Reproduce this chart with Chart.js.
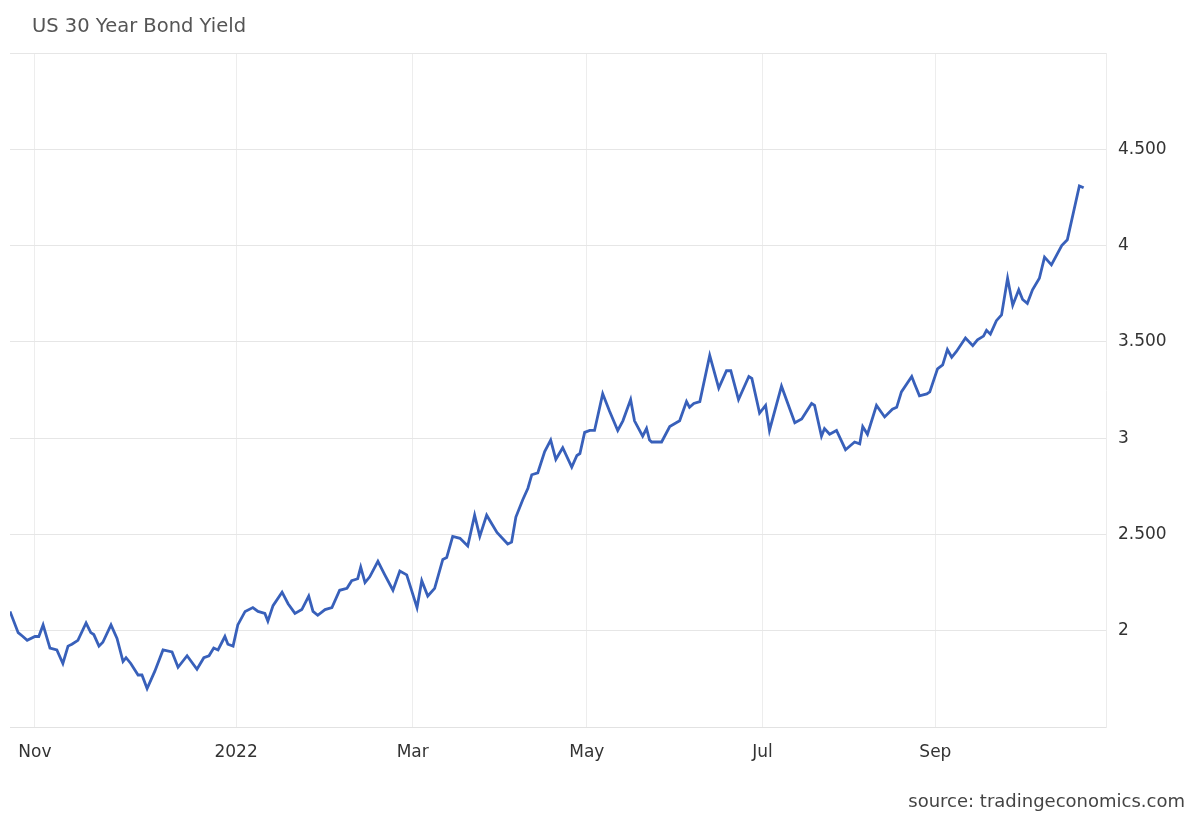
<!DOCTYPE html>
<html>
<head>
<meta charset="utf-8">
<title>US 30 Year Bond Yield</title>
<script src="https://cdn.jsdelivr.net/npm/chart.js@4.4.0/dist/chart.umd.min.js"></script>
<style>
    html, body { margin: 0; padding: 0; background: #fff; }
    #wrap { position: relative; width: 1193px; height: 814px; }
    #title {
        position: absolute; left: 32px; top: 14px;
        font: 19.5px "DejaVu Sans", sans-serif; color: #555;
    }
    #source {
        position: absolute; right: 8px; top: 790px;
        font: 18px "DejaVu Sans", sans-serif; color: #444;
    }
</style>
</head>
<body>
<div id="wrap">
    <canvas id="bondChart" width="1193" height="814"></canvas>
    <div id="title">US 30 Year Bond Yield</div>
    <div id="source">source: tradingeconomics.com</div>
</div>
<script>
// trading session number (from late Oct 2021) and the yield at that session
const sessions = [
    0, 1.9, 3.0, 4.0, 5.8, 6.7, 7.7, 9.3, 10.9, 12.3, 13.5, 14.4, 15.8, 17.7, 18.8, 19.5, 20.7, 21.6,
    23.5, 24.9, 26.3, 27.0, 28.1, 29.8, 30.7, 31.9, 33.7, 35.6, 37.7, 39.1, 41.2, 43.5, 45.1, 46.3,
    47.4, 48.4, 50.0, 50.7, 51.9, 53.0, 54.7, 56.5, 57.7, 59.3, 60.0, 61.2, 63.3, 64.7, 66.3, 67.9,
    69.5, 70.5, 71.6, 73.3, 74.9, 76.7, 78.4, 79.5, 80.9, 81.6, 82.6, 83.7, 85.6, 87.2, 89.1, 90.7,
    92.3, 94.7, 95.8, 97.2, 98.8, 100.7, 101.6, 103.0, 104.7, 106.5, 108.1, 109.3, 110.9, 113.3,
    115.8, 116.7, 117.7, 119.3, 120.5, 121.4, 122.8, 124.4, 125.8, 127.0, 128.6, 130.7, 131.9, 132.6,
    133.7, 134.9, 136.0, 137.9, 139.5, 141.4, 142.6, 144.4, 145.3, 147.2, 148.1, 148.8, 149.3, 151.6,
    153.5, 155.8, 157.4, 158.1, 159.1, 160.5, 162.8, 164.9, 166.7, 167.7, 169.5, 171.9, 172.6, 174.4,
    175.8, 176.7, 179.5, 182.6, 184.2, 186.5, 187.2, 188.8, 189.5, 190.7, 192.3, 194.4, 196.5, 197.7,
    198.4, 199.5, 201.6, 203.5, 205.3, 206.3, 207.4, 209.8, 210.5, 211.6, 213.3, 214.0, 215.8, 217.0,
    218.1, 219.1, 220.2, 222.3, 224.0, 225.1, 226.5, 227.2, 228.1, 229.5, 230.7, 232.1, 233.3, 234.7,
    235.6, 236.7, 237.9, 239.5, 240.7, 242.3, 244.7, 246.0, 248.8, 249.8
];
const yields = [
    2.10, 1.99, 1.97, 1.95, 1.97, 1.97, 2.03, 1.91, 1.90, 1.83, 1.92, 1.93, 1.95, 2.04, 1.99, 1.98, 1.92, 1.94,
    2.03, 1.96, 1.84, 1.86, 1.83, 1.77, 1.77, 1.70, 1.79, 1.90, 1.89, 1.81, 1.87, 1.80, 1.86, 1.87,
    1.91, 1.90, 1.97, 1.93, 1.92, 2.03, 2.10, 2.12, 2.10, 2.09, 2.05, 2.13, 2.20, 2.14, 2.09, 2.11,
    2.18, 2.10, 2.08, 2.11, 2.12, 2.21, 2.22, 2.26, 2.27, 2.33, 2.25, 2.28, 2.36, 2.29, 2.21, 2.31,
    2.29, 2.12, 2.26, 2.18, 2.22, 2.37, 2.38, 2.49, 2.48, 2.44, 2.60, 2.49, 2.60, 2.51,
    2.45, 2.46, 2.59, 2.68, 2.74, 2.81, 2.82, 2.93, 2.99, 2.89, 2.95, 2.85, 2.91, 2.92,
    3.03, 3.04, 3.04, 3.23, 3.14, 3.04, 3.09, 3.20, 3.09, 3.01, 3.05, 2.99, 2.98, 2.98,
    3.06, 3.09, 3.19, 3.16, 3.18, 3.19, 3.43, 3.26, 3.35, 3.35, 3.20, 3.32, 3.31, 3.13,
    3.17, 3.04, 3.27, 3.08, 3.10, 3.18, 3.17, 3.01, 3.05, 3.02, 3.04, 2.94, 2.98, 2.97,
    3.06, 3.02, 3.17, 3.11, 3.15, 3.16, 3.24, 3.32, 3.28, 3.22, 3.23, 3.24, 3.36, 3.38,
    3.46, 3.42, 3.45, 3.52, 3.48, 3.51, 3.53, 3.56, 3.54, 3.61, 3.64, 3.83, 3.69, 3.77,
    3.72, 3.70, 3.77, 3.83, 3.94, 3.90, 4.00, 4.03, 4.31, 4.30
];

// x axis labels and the session they sit on
const xTickSessions = [5.8, 52.6, 93.7, 134.2, 175.1, 215.3];
const xTickLabels = ['Nov', '2022', 'Mar', 'May', 'Jul', 'Sep'];

// y axis values and how they are written on the chart
const yTickValues = [1.5, 2, 2.5, 3, 3.5, 4, 4.5, 5];
const yTickLabels = ['', '2', '2.500', '3', '3.500', '4', '4.500', ''];

const tickFont = { family: '"DejaVu Sans", sans-serif', size: 17 };

function createChart() {
    const ctx = document.getElementById('bondChart').getContext('2d');
    const points = sessions.map((s, i) => ({ x: s, y: yields[i] }));

    return new Chart(ctx, {
        type: 'line',
        data: {
            datasets: [{
                label: 'US 30 Year Bond Yield',
                data: points,
                borderColor: 'rgb(56, 96, 186)',
                borderWidth: 2.8,
                pointRadius: 0,
                tension: 0,
                fill: false
            }]
        },
        options: {
            responsive: false,
            animation: false,
            layout: { padding: { left: 10, top: 53, right: 0, bottom: 0 } },
            plugins: {
                legend: { display: false },
                tooltip: { enabled: false }
            },
            scales: {
                x: {
                    type: 'linear',
                    min: 0,
                    max: 255,
                    afterBuildTicks: scale => {
                        scale.ticks = xTickSessions.map(v => ({ value: v }));
                    },
                    afterFit: scale => { scale.height = 87; },
                    ticks: {
                        autoSkip: false,
                        maxRotation: 0,
                        padding: 15,
                        color: '#333',
                        font: tickFont,
                        callback: (value, index) => xTickLabels[index]
                    },
                    grid: { color: '#ededed', drawTicks: false },
                    border: { color: '#e2e2e2' }
                },
                y: {
                    position: 'right',
                    min: 1.5,
                    max: 5,
                    afterBuildTicks: scale => {
                        scale.ticks = yTickValues.map(v => ({ value: v }));
                    },
                    afterFit: scale => { scale.width = 87; },
                    ticks: {
                        padding: 12,
                        color: '#333',
                        font: tickFont,
                        callback: (value, index) => yTickLabels[index]
                    },
                    grid: { color: '#e6e6e6', drawTicks: false },
                    border: { color: '#ececec' }
                }
            }
        }
    });
}

createChart();
</script>
</body>
</html>
